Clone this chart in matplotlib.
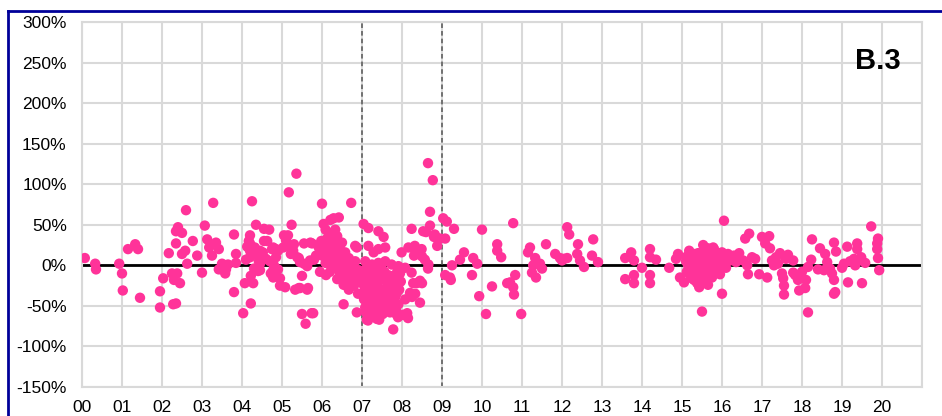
import numpy as np
import matplotlib.pyplot as plt
from matplotlib.lines import Line2D

plt.rcParams['font.family'] = ['Liberation Sans', 'DejaVu Sans']

# year (00 = 2000) and value in %
x_00_02 = [0.07, 0.33, 0.35, 0.93, 1.0, 1.02, 1.15, 1.33, 1.4, 1.45, 1.95, 1.95]
y_00_02 = [9, 2, -5, 2, -10, -31, 20, 26, 20, -40, -32, -52]

x_02_04 = [2.03, 2.17, 2.25, 2.28, 2.35, 2.35, 2.35, 2.4, 2.5, 2.38, 2.45, 2.3, 2.5, 2.58,
           2.6, 2.63, 2.77, 2.88, 3.0, 3.07, 3.13, 3.18, 3.25, 3.28, 3.35, 3.42, 3.42, 3.5,
           3.58, 3.6, 3.65, 3.8, 3.8, 3.85, 3.85]
y_02_04 = [-16, 15, -10, -48, -47, 27, 42, 47, 40, -10, -22, -18, 14, 18,
           68, 2, 30, 12, -9, 49, 32, 22, 12, 77, 28, 20, -5, 2,
           -10, -5, 1, 38, -33, 14, 3]

x_04_05 = [4.03, 4.07, 4.1, 4.13, 4.17, 4.2, 4.2, 4.2, 4.2, 4.22, 4.25, 4.22, 4.28, 4.35,
           4.3, 4.38, 4.45, 4.45, 4.45, 4.45, 4.5, 4.3, 4.4, 4.55, 4.55, 4.63, 4.68, 4.7,
           4.75, 4.78, 4.78, 4.78, 4.8, 4.85, 4.9, 4.9, 4.95, 4.95,
           4.25, 4.32, 4.42, 4.52, 4.6, 4.72, 4.85]
y_04_05 = [-59, -22, 7, 23, 30, 37, 27, 18, 10, -47, 79, -13, -22, 50,
           14, 18, 18, 10, 2, -6, 12, -4, -7, 45, 30, 30, 44, 5,
           20, 22, -6, -15, 0, 20, 18, -5, -16, -25,
           15, 22, 5, 16, 8, -10, 10]

x_05_06 = [5.03, 5.05, 5.08, 5.1, 5.15, 5.17, 5.2, 5.22, 5.24, 5.28, 5.3, 5.33, 5.36, 5.38,
           5.42, 5.42, 5.45, 5.45, 5.5, 5.5, 5.55, 5.55, 5.59, 5.63, 5.63, 5.65, 5.7, 5.71,
           5.74, 5.75, 5.78, 5.8, 5.85, 5.92, 5.95, 5.98]
y_05_06 = [22, 37, -27, 31, 37, 90, 22, 14, 50, 18, 26, -30, 113, 10,
           9, -28, 4, -28, -13, -60, 27, 2, -72, -1, -30, -28, 6, 28,
           -59, 27, -59, 7, 12, 22, -8, 30]

x_06_07 = [6.0, 6.0, 6.04, 6.09, 6.09, 6.09, 6.17, 6.21, 6.21, 6.25, 6.25, 6.29, 6.33, 6.33,
           6.38, 6.38, 6.42, 6.42, 6.42, 6.5, 6.5, 6.54, 6.54, 6.58, 6.58, 6.67, 6.67, 6.71,
           6.73, 6.79, 6.83, 6.83, 6.83, 6.87, 6.87, 6.15, 6.3, 6.45, 6.6, 6.95, 6.2, 6.35,
           6.1, 6.65, 6.9,
           6.05, 6.12, 6.18, 6.26, 6.32, 6.4, 6.47, 6.55, 6.62, 6.7, 6.77, 6.85, 6.92,
           6.07, 6.14, 6.22, 6.36, 6.44, 6.52, 6.63, 6.74, 6.8, 6.9]
y_06_07 = [76, 12, 51, 44, 26, 3, 16, 56, 28, 40, -1, 58, 44, 26,
           36, -17, 59, 14, -5, 28, -9, -24, -48, 16, -7, 9, -30, -13,
           77, -3, 5, 24, -17, 22, -58, 8, 6, -10, 2, -20, -8, 18,
           -12, -20, -35,
           20, 10, 22, 12, 18, 4, 8, 2, -2, -5, -8, -12, -6,
           30, 34, 10, 0, 22, -14, -16, -22, -25, -10]

x_07_08 = [7.04, 7.16, 7.41, 7.54, 7.16, 7.29, 7.41, 7.58, 7.08, 7.25, 7.41, 7.58, 7.74, 7.91,
           7.04, 7.2, 7.37, 7.54, 7.7, 7.87, 7.04, 7.2, 7.37, 7.54, 7.7, 7.87, 7.08, 7.25,
           7.41, 7.58, 7.74, 7.91, 7.08, 7.25, 7.49, 7.66, 7.83, 7.12, 7.37, 7.78, 7.15, 7.43,
           7.9, 7.12, 7.3, 7.46, 7.62, 7.8, 7.95, 7.1, 7.28, 7.45, 7.63, 7.82, 7.18, 7.33,
           7.5, 7.68, 7.85,
           7.02, 7.07, 7.14, 7.22, 7.27, 7.33, 7.39, 7.47, 7.52, 7.6, 7.66, 7.72, 7.78, 7.84,
           7.93, 7.97, 7.05, 7.13, 7.21, 7.35, 7.43, 7.56, 7.64, 7.76, 7.88,
           7.1, 7.22, 7.36, 7.52, 7.7]
y_07_08 = [51, 46, 42, 35, 24, 16, 20, 22, 5, 1, 3, 5, 1, -1,
           -9, -11, -13, -15, -13, -17, -24, -26, -28, -30, -30, -34, -38, -40,
           -42, -42, -44, -48, -52, -54, -50, -54, -59, -67, -66, -79, -68, -67,
           -64, -3, -6, -8, -20, -22, -10, -18, -33, -35, -37, -25, -45, -20,
           -5, -48, -55,
           -15, -30, -35, -18, -45, -38, -22, -48, -40, -36, -25, -28, -50, -38,
           -30, -20, -42, -12, -5, -2, -19, -8, -12, -22, -8,
           -58, -62, -56, -60, -58]

x_08_09 = [8.03, 8.08, 8.08, 8.2, 8.24, 8.24, 8.37, 8.45, 8.45, 7.99, 8.16, 8.32, 8.49, 8.37,
           8.57, 8.66, 8.24, 8.53, 8.7, 8.82, 8.7, 8.65, 8.77, 8.8, 8.88, 8.95, 8.28, 8.33,
           8.5, 8.3, 8.5, 8.65, 8.13, 8.15, 8.25, 8.6, 8.3]
y_08_09 = [-61, -42, -3, -34, -9, 45, -22, -19, -46, 16, 22, 24, 20, 14,
           7, 1, -36, 42, 49, 38, 66, 126, 105, 35, 24, 33, -22, -35,
           -22, 22, 11, -4, -59, -65, -39, 41, 12]

x_09_11 = [9.03, 9.12, 9.08, 9.3, 9.25, 9.08, 9.2, 9.22, 9.45, 9.55, 9.75, 9.78, 9.88, 9.93,
           10.0, 10.1, 10.25, 10.38, 10.38, 10.48, 10.63, 10.7, 10.78, 10.8, 10.83, 10.78, 10.98]
y_09_11 = [58, 54, 33, 45, 0, -12, -15, -18, 7, 16, -12, 9, 2, -38,
           44, -60, -26, 26, 18, 10, -22, -21, -27, -36, -12, 52, -60]

x_11_13 = [11.2, 11.15, 11.33, 11.28, 11.25, 11.35, 11.45, 11.5, 11.6, 11.83, 11.95, 12.13,
           12.13, 12.18, 12.38, 12.4, 12.45, 12.55, 12.78, 12.75, 12.9, 12.0, 12.05]
y_11_13 = [22, 16, 9, 0, -9, -15, 2, -4, 26, 14, 9, 9,
           47, 38, 14, 26, 6, -2, 32, 12, 4, 6, 8]

x_13_15 = [13.58, 13.73, 13.8, 13.58, 13.8, 13.8, 14.0, 14.2, 14.2, 14.35, 14.2, 14.2,
           14.68, 14.9, 14.95, 14.85]
y_13_15 = [9, 16, 6, -17, -12, -22, -3, 20, 10, 7, -12, -22,
           -3, 14, -15, 8]

x_15_16 = [15.05, 15.1, 15.15, 15.2, 15.25, 15.3, 15.35, 15.4, 15.45, 15.5, 15.55, 15.6,
           15.65, 15.7, 15.75, 15.8, 15.85, 15.9, 15.95, 16.0, 16.05, 16.1, 16.15, 16.2,
           15.1, 15.2, 15.3, 15.4, 15.5, 15.6, 15.7, 15.8, 15.9, 16.0,
           15.15, 15.25, 15.35, 15.45, 15.55, 15.65, 15.75, 15.85,
           15.43, 15.65, 15.75, 15.95, 16.0, 16.05, 15.5,
           15.53, 15.65, 15.75, 15.83, 15.88,
           15.12, 15.22, 15.32, 15.42, 15.52, 15.62, 15.72, 15.82, 15.92, 16.02, 16.12,
           15.18, 15.38, 15.58, 15.78, 15.98]
y_15_16 = [-21, 5, 12, -5, 8, 14, -10, 2, -15, 10, 18, -2,
           6, 12, 0, 15, 8, 2, 10, 5, 12, -3, 14, 6,
           10, -12, -18, 15, -8, 3, -8, 20, -5, 16,
           0, -16, 6, -20, -4, -12, 4, -2,
           -27, -24, -15, -11, -35, 55, -57,
           25, 21, 18, 12, 6,
           -8, 0, -2, -6, 4, 10, -6, 10, 0, -2, 8,
           18, -22, -14, 22, 8]

x_16_18 = [16.43, 16.53, 16.63, 16.65, 16.58, 16.68, 16.75, 16.83, 16.93, 17.0, 17.18, 17.08,
           17.2, 17.13, 17.25, 17.35, 17.45, 17.5, 17.53, 17.55, 17.55, 17.6, 17.65, 17.3,
           17.4, 16.3, 16.35]
y_16_18 = [15, 6, 0, -11, 33, 39, 10, 8, -11, 35, 36, 27,
           21, -15, 6, 10, 15, -10, -16, -25, -36, 8, 13, 0,
           2, 12, 4]

x_18_20 = [17.78, 17.78, 17.83, 17.9, 17.93, 18.08, 18.1, 18.15, 18.23, 18.15, 18.25, 18.45,
           18.58, 18.63, 18.55, 18.7, 18.75, 18.8, 18.8, 18.83, 18.8, 18.85, 19.13, 19.15,
           19.05, 19.2, 19.3, 19.33, 19.38, 19.38, 19.42, 19.5, 19.48, 19.58, 19.73, 19.9,
           19.88, 19.88, 19.9, 19.93, 18.0, 18.4, 19.0]
y_18_20 = [6, -9, -12, -18, -31, -28, -18, -2, 7, -58, 32, 21,
           14, 4, -6, -4, -10, -18, -35, -33, 28, 17, 23, -21,
           2, 5, 8, 0, 27, 20, 6, -22, 10, 3, 48, 33,
           27, 20, 9, -6, -8, -5, -3]

xs = np.concatenate([x_00_02, x_02_04, x_04_05, x_05_06, x_06_07, x_07_08, x_08_09,
                     x_09_11, x_11_13, x_13_15, x_15_16, x_16_18, x_18_20])
ys = np.concatenate([y_00_02, y_02_04, y_04_05, y_05_06, y_06_07, y_07_08, y_08_09,
                     y_09_11, y_11_13, y_13_15, y_15_16, y_16_18, y_18_20])

year_labels = ['%02d' % i for i in range(21)]
pct_ticks = list(range(-150, 301, 50))
event_years = [7, 9]

fig = plt.figure(figsize=(9.42, 4.16), dpi=100)
ax = fig.add_axes([82/942, 1 - 387/416, 840/942, 365/416])

ax.scatter(xs, ys, s=56, color='#FF3399', edgecolors='none', zorder=3)
ax.axhline(0, color='black', lw=2, zorder=2)
for ev in event_years:
    ax.axvline(ev, color='#555555', lw=1.1, ls=(0, (3, 2)), zorder=2)

ax.set_xlim(0, 21)
ax.set_ylim(-150, 300)
ax.set_xticks(range(21))
ax.set_xticklabels(year_labels)
ax.set_yticks(pct_ticks)
ax.set_yticklabels(['%d%%' % v for v in pct_ticks])
ax.set_xticks(range(22), minor=True)
ax.grid(True, which='both', axis='x', color='#D9D9D9', lw=1.5)
ax.grid(True, axis='y', color='#D9D9D9', lw=1.5)
ax.set_axisbelow(True)
for sp in ax.spines.values():
    sp.set_color('#D9D9D9')
    sp.set_linewidth(1.5)
ax.tick_params(which='both', length=0, labelsize=12.5, colors='black')
ax.tick_params(axis='y', pad=11)
ax.tick_params(axis='x', pad=9)

fig.text(878/942, 1 - 61/416, 'B.3', fontsize=21, fontweight='bold', ha='center', va='center')

# dark blue frame (top and left edges visible)
fig.add_artist(Line2D([8/942, 1], [1 - 11/416, 1 - 11/416], transform=fig.transFigure,
                      color='#000099', lw=2))
fig.add_artist(Line2D([8/942, 8/942], [0, 1 - 11/416], transform=fig.transFigure,
                      color='#000099', lw=2))

fig.savefig('out.png', dpi=100)
